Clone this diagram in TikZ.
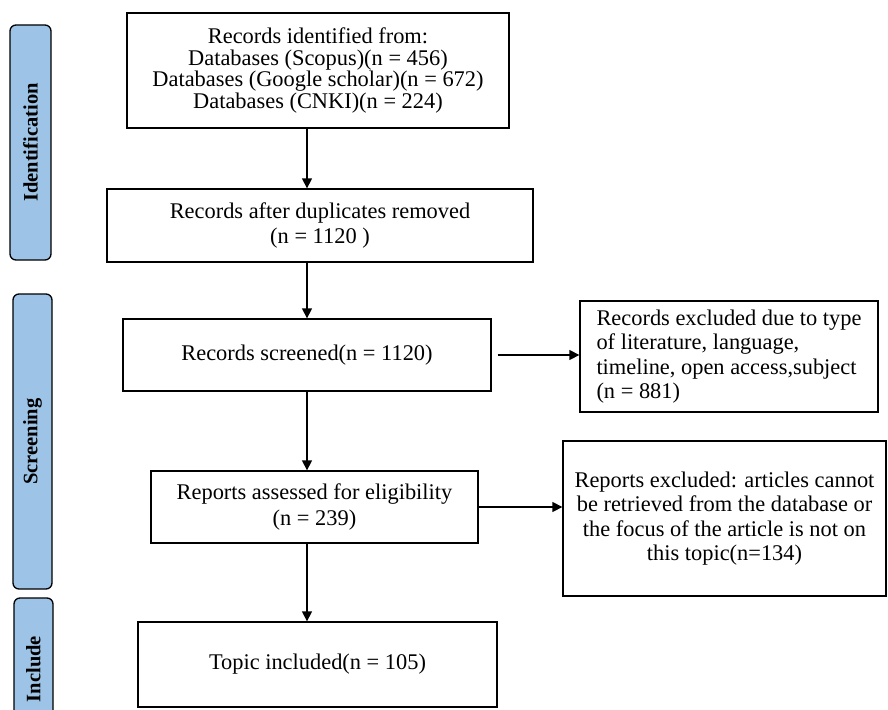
\documentclass[tikz,border=0pt]{standalone}
\usepackage{fontspec}
\setmainfont{Liberation Serif}
\usetikzlibrary{arrows.meta}
\definecolor{stageblue}{RGB}{157,195,230}

\begin{document}
\begin{tikzpicture}[x=1pt, y=-1pt,
        box/.style={draw, line width=1.3pt, align=center, inner sep=0pt, font=\fontsize{22.4}{25.5}\selectfont},
        stage/.style={draw, line width=1.3pt, rounded corners=6pt, fill=stageblue, rotate=90, inner sep=0pt, font=\fontsize{20.5}{22}\selectfont\bfseries},
        arr/.style={line width=1.3pt, -{Triangle[length=10pt,width=10pt]}}]
        \useasboundingbox (0,0) rectangle (888,709);
        \clip (0,0) rectangle (888,709);
        \node[stage, minimum width=235pt, minimum height=41pt] (ident) at (30.5,142.5) {Identification};
        \node[stage, minimum width=295pt, minimum height=39pt] (screen) at (32.5,441.5) {Screening};
        \node[stage, minimum width=142pt, minimum height=39pt] (incl) at (33.5,669) {Include};
        \node[box, minimum width=382pt, minimum height=115pt, font=\fontsize{22.4}{21.7}\selectfont] (found) at (318,70.5) {Records identified from:\\Databases (Scopus)(n = 456)\\Databases (Google scholar)(n = 672)\\Databases (CNKI)(n = 224)};
        \node[box, minimum width=426pt, minimum height=73pt] (dedup) at (320,225.5) {Records after duplicates removed\\(n = 1120 )};
        \node[box, minimum width=368pt, minimum height=72pt] (screened) at (307,355) {Records screened(n = 1120)};
        \node[box, minimum width=327pt, minimum height=72pt] (assessed) at (314.5,507) {Reports assessed for eligibility\\(n = 239)};
        \node[box, minimum width=359pt, minimum height=85pt] (topic) at (317.5,664.5) {Topic included(n = 105)};
        \node[box, align=left, minimum width=298pt, minimum height=111pt, font=\fontsize{22.4}{24.3}\selectfont] (dropA) at (729,356.5) {Records excluded due to type\\of literature, language,\\timeline, open access,subject\\(n = 881)};
        \node[box, minimum width=323pt, minimum height=155pt, font=\fontsize{22.4}{24.5}\selectfont] (dropB) at (724.5,518.5) {Reports excluded: articles cannot\\be retrieved from the database or\\the focus of the article is not on\\this topic(n=134)};
        \draw[arr] (found.south -| screened) -- (dedup.north -| screened);
        \draw[arr] (dedup.south -| screened) -- (screened.north);
        \draw[arr] (screened.south) -- (assessed.north -| screened);
        \draw[arr] (assessed.south -| screened) -- (topic.north -| screened);
        \draw[arr, shorten <=6pt] (screened.east) -- (screened.east -| dropA.west);
        \draw[arr] (assessed.east) -- (assessed.east -| dropB.west);
    \end{tikzpicture}
\end{document}
